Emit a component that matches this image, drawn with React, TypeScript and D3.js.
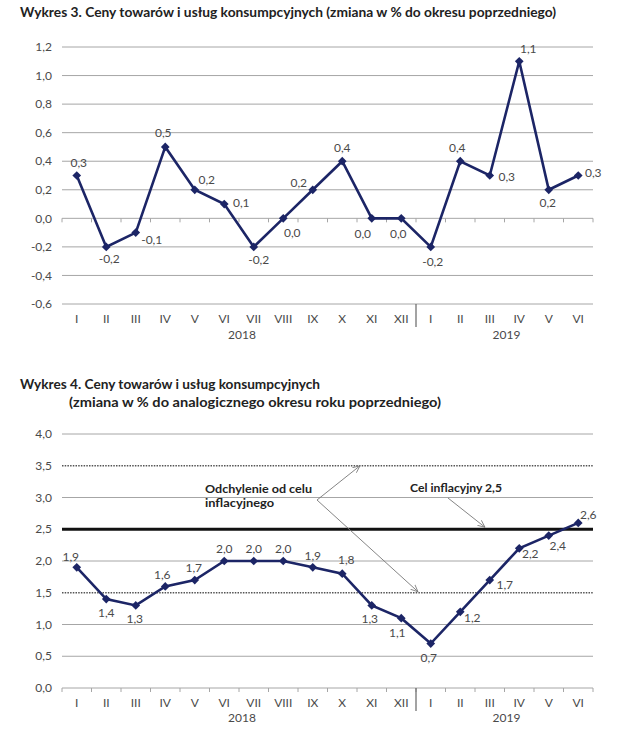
import React from "react";
import * as d3 from "d3";

const months = ["I","II","III","IV","V","VI","VII","VIII","IX","X","XI","XII","I","II","III","IV","V","VI"];
const years = ["2018", "2019"];
const monthlyChange = [0.3,-0.2,-0.1,0.5,0.2,0.1,-0.2,0.0,0.2,0.4,0.0,0.0,-0.2,0.4,0.3,1.1,0.2,0.3];
const yearlyChange = [1.9,1.4,1.3,1.6,1.7,2.0,2.0,2.0,1.9,1.8,1.3,1.1,0.7,1.2,1.7,2.2,2.4,2.6];
const ticks1 = [-0.6,-0.4,-0.2,0,0.2,0.4,0.6,0.8,1.0,1.2];
const ticks2 = [0,0.5,1,1.5,2,2.5,3,3.5,4];
const title1 = "Wykres 3. Ceny towarów i usług konsumpcyjnych (zmiana w % do okresu poprzedniego)";
const title2a = "Wykres 4. Ceny towarów i usług konsumpcyjnych";
const title2b = "(zmiana w % do analogicznego okresu roku poprzedniego)";
const annDeviation = ["Odchylenie od celu", "inflacyjnego"];
const annTarget = "Cel inflacyjny 2,5";
const targetValue = 2.5;
const bandValues = [1.5, 3.5];

// label offsets (style)
const off1: [number, number][] = [[2,-13],[3,12],[16,7],[-2,-14],[12,-10],[17,-1],[5,13],[9,14],[-14,-7],[0,-13],[-9,15],[-3,15],[2,15],[-3,-13],[17,1],[9,-12],[-1,13],[15,-3]];
const off2: [number, number][] = [[-6,-11],[0,14],[-1,13],[-3,-12],[-1,-12],[0,-12],[0,-12],[0,-12],[0,-12],[4,-14],[-2,13],[-4,15],[-2,14],[12,6],[15,5],[11,5],[9,10],[10,-8]];

const FONT = "Lato, 'Open Sans', sans-serif";
const LINE = "#1c2566";
const GRID = "#a6a6a6";
const TXT = "#4a4a4a";

const fmt = (v: number) => v.toFixed(1).replace(".", ",").replace("-0,0", "0,0");

const diamond = d3.symbol(d3.symbolSquare, 38)();

function Chart({ values, ticks, yDomain, yRange, offsets, xLabelY, yearY, kind }: any) {
  const x = d3.scaleBand<number>().domain(d3.range(values.length)).range([62, 593]).padding(0);
  const y = d3.scaleLinear().domain(yDomain).range(yRange);
  const bw = x.bandwidth();
  const line = d3.line<number>().x((_, i) => (x(i) as number) + bw / 2).y((d) => y(d));
  const x0 = 62, x1 = 593;
  const bottom = y(yDomain[0]);
  const zeroY = y(0);
  const sepX = x(12) as number;
  const boundaries = d3.range(values.length + 1).map((i) => x0 + i * bw);
  const yearCenters = [
    ((x(0) as number) + (x(11) as number) + bw) / 2 + 3,
    ((x(12) as number) + (x(17) as number) + bw) / 2 + 2,
  ];
  return (
    <g>
      {ticks.map((t: number) => {
        let stroke = GRID, sw = 1, dash: string | undefined = undefined;
        if (kind === 2 && bandValues.includes(t)) { stroke = "#555"; sw = 1.6; dash = "1.5,1.2"; }
        if (kind === 2 && t === targetValue) { stroke = "#111"; sw = 3; }
        return (
          <g key={t}>
            <line x1={x0} x2={x1} y1={y(t)} y2={y(t)} stroke={stroke} strokeWidth={sw} strokeDasharray={dash} />
            <text x={52} y={y(t)} dy="0.35em" textAnchor="end" fontSize={12} fill={TXT} fontFamily={FONT}>{fmt(t)}</text>
          </g>
        );
      })}
      {boundaries.map((bx, i) => (
        <line key={i} x1={bx} x2={bx} y1={zeroY} y2={zeroY + 4} stroke={GRID} strokeWidth={1} />
      ))}
      <line x1={sepX} x2={sepX} y1={bottom} y2={bottom + 23} stroke="#666" strokeWidth={1.2} />
      {months.map((m, i) => (
        <text key={i} x={(x(i) as number) + bw / 2} y={xLabelY} textAnchor="middle" fontSize={12} fill={TXT} fontFamily={FONT}>{m}</text>
      ))}
      {years.map((yr, i) => (
        <text key={yr} x={yearCenters[i]} y={yearY} textAnchor="middle" fontSize={12} fill={TXT} fontFamily={FONT}>{yr}</text>
      ))}
      <path d={line(values) as string} fill="none" stroke={LINE} strokeWidth={2.6} strokeLinejoin="miter" />
      {values.map((v: number, i: number) => (
        <path key={i} d={diamond as string} transform={`translate(${(x(i) as number) + bw / 2},${y(v)}) rotate(45)`} fill={LINE} />
      ))}
      {values.map((v: number, i: number) => (
        <text key={"l" + i} x={(x(i) as number) + bw / 2 + offsets[i][0]} y={y(v) + offsets[i][1]} dy="0.35em" textAnchor="middle" fontSize={12} fill={TXT} fontFamily={FONT}>{fmt(v)}</text>
      ))}
    </g>
  );
}

export default function App() {
  const y2 = d3.scaleLinear().domain([0, 4]).range([688, 434]);
  return (
    <svg width={625} height={729} style={{ position: "absolute", left: 0, top: 0, background: "#fff" }} fontFamily={FONT}>
      <defs>
        <marker id="arr" viewBox="0 0 10 10" refX="9" refY="5" markerWidth="8" markerHeight="8" orient="auto" markerUnits="userSpaceOnUse">
          <path d="M0,1 L9,5 L0,9" fill="none" stroke="#777" strokeWidth={1} />
        </marker>
      </defs>
      <rect width={625} height={729} fill="#fff" />
      <text x={20} y={17} fontSize={13} fontWeight={700} fill="#222" textLength={536} lengthAdjust="spacingAndGlyphs">{title1}</text>
      <Chart values={monthlyChange} ticks={ticks1} yDomain={[-0.6, 1.2]} yRange={[304, 47]} offsets={off1} xLabelY={323} yearY={339} kind={1} />

      <text x={20} y={389} fontSize={13} fontWeight={700} fill="#222" textLength={300} lengthAdjust="spacingAndGlyphs">{title2a}</text>
      <text x={69} y={407} fontSize={13} fontWeight={700} fill="#222" textLength={372} lengthAdjust="spacingAndGlyphs">{title2b}</text>
      <Chart values={yearlyChange} ticks={ticks2} yDomain={[0, 4]} yRange={[688, 434]} offsets={off2} xLabelY={707} yearY={722} kind={2} />

      <text x={205} y={493} fontSize={12} fontWeight={700} fill="#222" textLength={107} lengthAdjust="spacingAndGlyphs">{annDeviation[0]}</text>
      <text x={205} y={507} fontSize={12} fontWeight={700} fill="#222" textLength={69} lengthAdjust="spacingAndGlyphs">{annDeviation[1]}</text>
      <line x1={317} y1={500} x2={360} y2={y2(bandValues[1])} stroke="#777" strokeWidth={0.9} markerEnd="url(#arr)" />
      <line x1={317} y1={500} x2={418} y2={y2(bandValues[0]) - 1} stroke="#777" strokeWidth={0.9} markerEnd="url(#arr)" />
      <text x={410} y={492} fontSize={12} fontWeight={700} fill="#222" textLength={92} lengthAdjust="spacingAndGlyphs">{annTarget}</text>
      <line x1={448} y1={498} x2={485} y2={y2(targetValue) - 2} stroke="#777" strokeWidth={0.9} markerEnd="url(#arr)" />
    </svg>
  );
}
